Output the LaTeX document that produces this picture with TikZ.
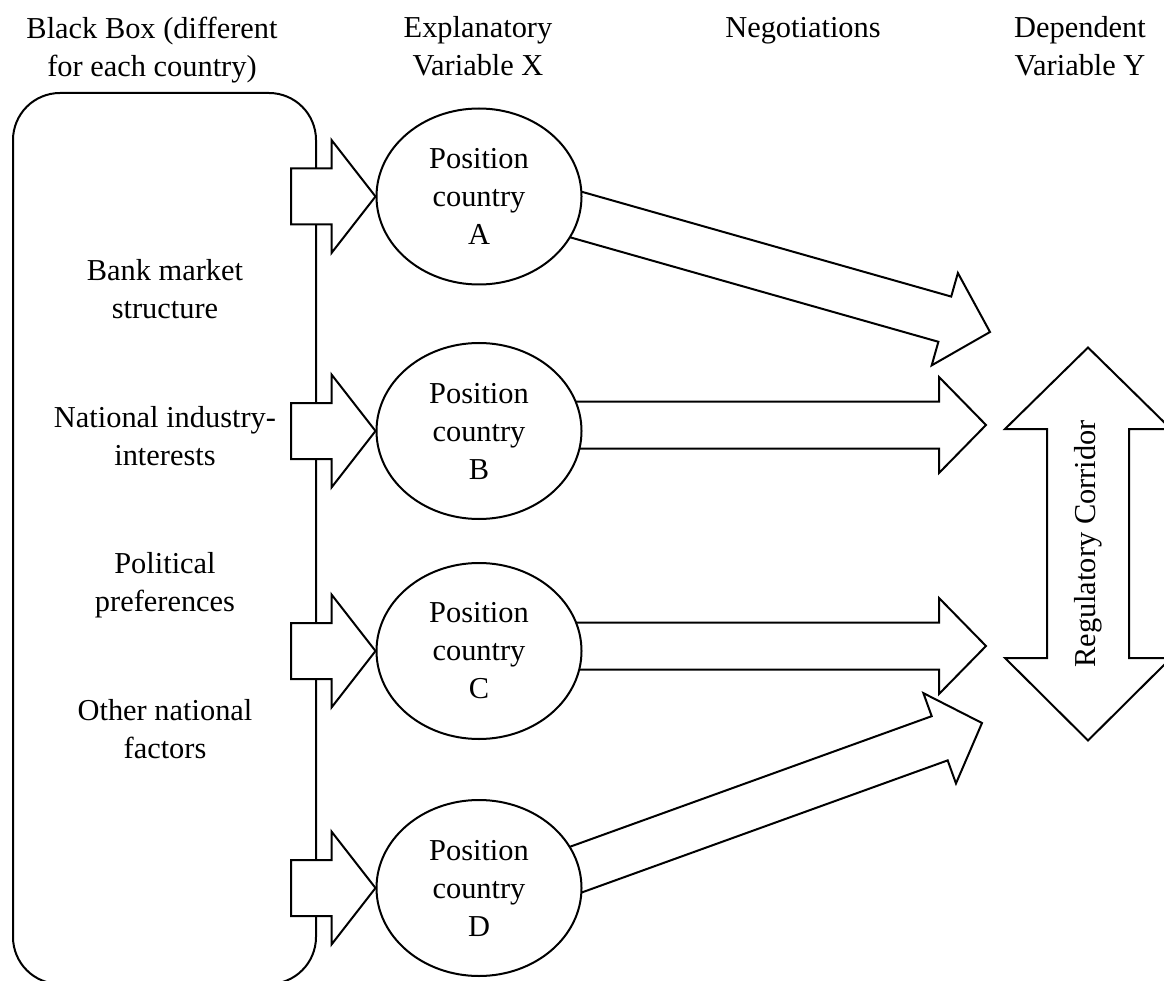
\documentclass[tikz,border=0pt]{standalone}
\usepackage{fontspec}
\setmainfont{Liberation Serif}
\usetikzlibrary{backgrounds,calc,positioning,shapes.geometric}
\tikzset{
  outline/.style={draw=black, line width=2pt, line join=miter},
  blackbox/.style={outline, rounded corners=47pt,
    minimum width=303pt, minimum height=891pt},
  position/.style={outline, fill=white, ellipse, align=center,
    minimum width=205pt, minimum height=176pt, inner sep=1pt},
  heading/.style={align=center},
  factor/.style={align=center},
  blockarrow/.style={outline, fill=white}
}
% block arrow: tail, tip, half shaft, half head, head length
\newcommand{\BlockArrow}[5]{%
  \coordinate (neck) at ($#2!#5!#1$);
  \path[blockarrow] ($#1!#3!90:#2$) -- ($(neck)!#3!90:#2$)
    -- ($(neck)!#4!90:#2$) -- #2 -- ($(neck)!#4!-90:#2$)
    -- ($(neck)!#3!-90:#2$) -- ($#1!#3!-90:#2$) -- cycle;
}

\begin{document}
\begin{tikzpicture}[x=1pt,y=-1pt, font={\fontsize{30.4}{38}\selectfont}]
  \useasboundingbox (0,0) rectangle (1164,981);

  % ------------------------------------------------------------------
  % column headings
  \node[heading] (hdbox) at (152,50) {Black Box (different\\for each country)};
  \node[heading] (hdx) at (478,46.5) {Explanatory\\Variable X};
  \node[heading] (hdneg) at (803,31) {Negotiations};
  \node[heading] (hdy) at (1080,46.5) {Dependent\\Variable Y};

  % ------------------------------------------------------------------
  % black box with national factors
  \node[blackbox] (box) at (164.5,538.5) {};
  \node[factor] (bank) at (165,289) {Bank market\\structure};
  \node[factor] (industry) at (165,436) {National industry-\\interests};
  \node[factor] (political) at (165,585.5) {Political\\preferences};
  \node[factor] (other) at (165,729) {Other national\\factors};

  % ------------------------------------------------------------------
  % country positions
  \node[position] (posA) at (479,196.5) {Position\\country\\A};
  \node[position] (posB) at (479,431) {Position\\country\\B};
  \node[position] (posC) at (479,651) {Position\\country\\C};
  \node[position] (posD) at (479,888) {Position\\country\\D};

  % black box -> positions
  \foreach \c in {A,B,C,D} {
    \coordinate (in\c) at ($(box.east |- pos\c.west)+(-26,0)$);
    \BlockArrow{(in\c)}{(pos\c.west)}{28pt}{56.5pt}{44pt}
  }

  % ------------------------------------------------------------------
  % negotiations -> regulatory corridor
  \coordinate (tailA) at ($(posA.center)+(21,-3.5)$);
  \coordinate (tailB) at ($(posB.center)+(21,-6)$);
  \coordinate (tailC) at ($(posC.center)+(21,-5)$);
  \coordinate (tailD) at ($(posD.center)+(21,9)$);
  \coordinate (tipA) at (990,332);
  \coordinate (tipB) at (986,425);
  \coordinate (tipC) at (986,646);
  \coordinate (tipD) at (982,723);
  \node[rotate=90] (corridor) at (1088,544) {Regulatory Corridor};

  \begin{scope}[on background layer]
    \BlockArrow{(tailA)}{(tipA)}{23.5pt}{48pt}{47pt}
    \BlockArrow{(tailB)}{(tipB)}{23.5pt}{48pt}{47pt}
    \BlockArrow{(tailC)}{(tipC)}{23.5pt}{48pt}{47pt}
    \BlockArrow{(tailD)}{(tipD)}{23.5pt}{48pt}{45pt}
    \begin{scope}[shift={(corridor.center)}]
      \path[blockarrow] (0,-196.5) -- (83,-115) -- (41,-115) -- (41,114)
        -- (83,114) -- (0,196.5) -- (-83,114) -- (-41,114) -- (-41,-115)
        -- (-83,-115) -- cycle;
    \end{scope}
  \end{scope}
\end{tikzpicture}
\end{document}
